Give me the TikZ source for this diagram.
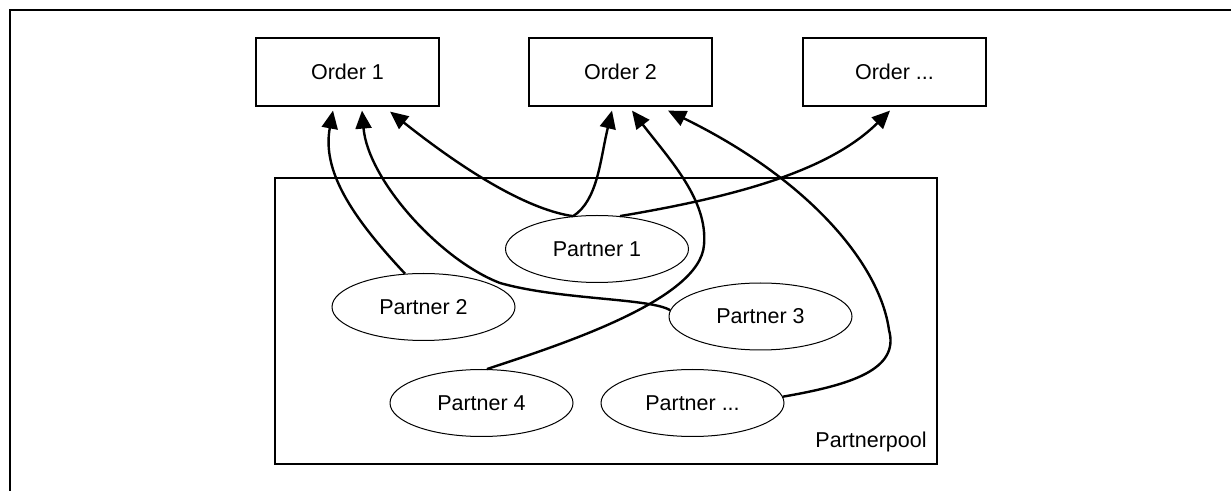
\documentclass[tikz,border=0pt]{standalone}
\usepackage{fontspec}
\setmainfont{Liberation Sans}
\usetikzlibrary{arrows.meta,shapes.geometric,calc}
\begin{document}
\begin{tikzpicture}[x=0.5pt,y=-0.5pt,
  lbl/.style={font=\fontsize{10.75pt}{13pt}\selectfont},
  orderbox/.style={lbl,draw,line width=0.6pt,minimum width=91.5pt,minimum height=34pt,inner sep=0pt},
  partner/.style={lbl,draw,ellipse,line width=0.5pt,minimum width=91.5pt,minimum height=33.5pt,inner sep=0pt},
  poolbox/.style={draw,line width=0.6pt,minimum width=331pt,minimum height=143pt,inner sep=0pt},
  link/.style={line width=1.2pt,-{Triangle[length=9pt,width=8pt]}},
  frame/.style={line width=1pt}]
\useasboundingbox (0,0) rectangle (1231,491);
\draw[frame] (10,491) -- (10,10) -- (1231,10);
% orders
\node[orderbox] (o1) at (347.5,72) {Order 1};
\node[orderbox] (o2) at (620.5,72) {Order 2};
\node[orderbox] (o3) at (894.5,72) {Order ...};
% pool
\node[poolbox] (pool) at (606,321) {};
\node[lbl,anchor=base east,inner sep=0pt] (poollbl) at (927,447) {Partnerpool};
% partners
\node[partner] (p1) at (597,249) {Partner 1};
\node[partner] (p2) at (423.5,307) {Partner 2};
\node[partner] (p3) at (760.5,316.5) {Partner 3};
\node[partner] (p4) at (481.5,403) {Partner 4};
\node[partner] (p5) at (692.5,403) {Partner ...};
% connectors
\draw[link] (p2.119) .. controls (350,215) and (322,170) .. ($(o1.south)+(-14.5,4)$);
\draw[link] (p3.176) .. controls (650,298) and (560,300) .. (500,283)
  .. controls (440,260) and (368,180) .. ($(o1.south)+(14.5,4)$);
\draw[link] (p1.126) .. controls (530,210) and (470,175) .. ($(o1.south)+(42.5,5)$);
\draw[link] (p1.126) .. controls (598,200) and (600,160) .. ($(o2.south)+(-8.5,4)$);
\draw[link] (p1.55) .. controls (740,196) and (830,170) .. ($(o3.south)+(-4.5,4)$);
\draw[link] (p4.81) .. controls (560,345) and (700,300) .. (704,245)
  .. controls (708,200) and (670,160) .. ($(o2.south)+(11.5,4)$);
\draw[link] (p5.4) .. controls (850,385) and (900,370) .. (889,330)
  .. controls (880,265) and (810,180) .. ($(o2.south)+(47.5,4)$);
\end{tikzpicture}
\end{document}
